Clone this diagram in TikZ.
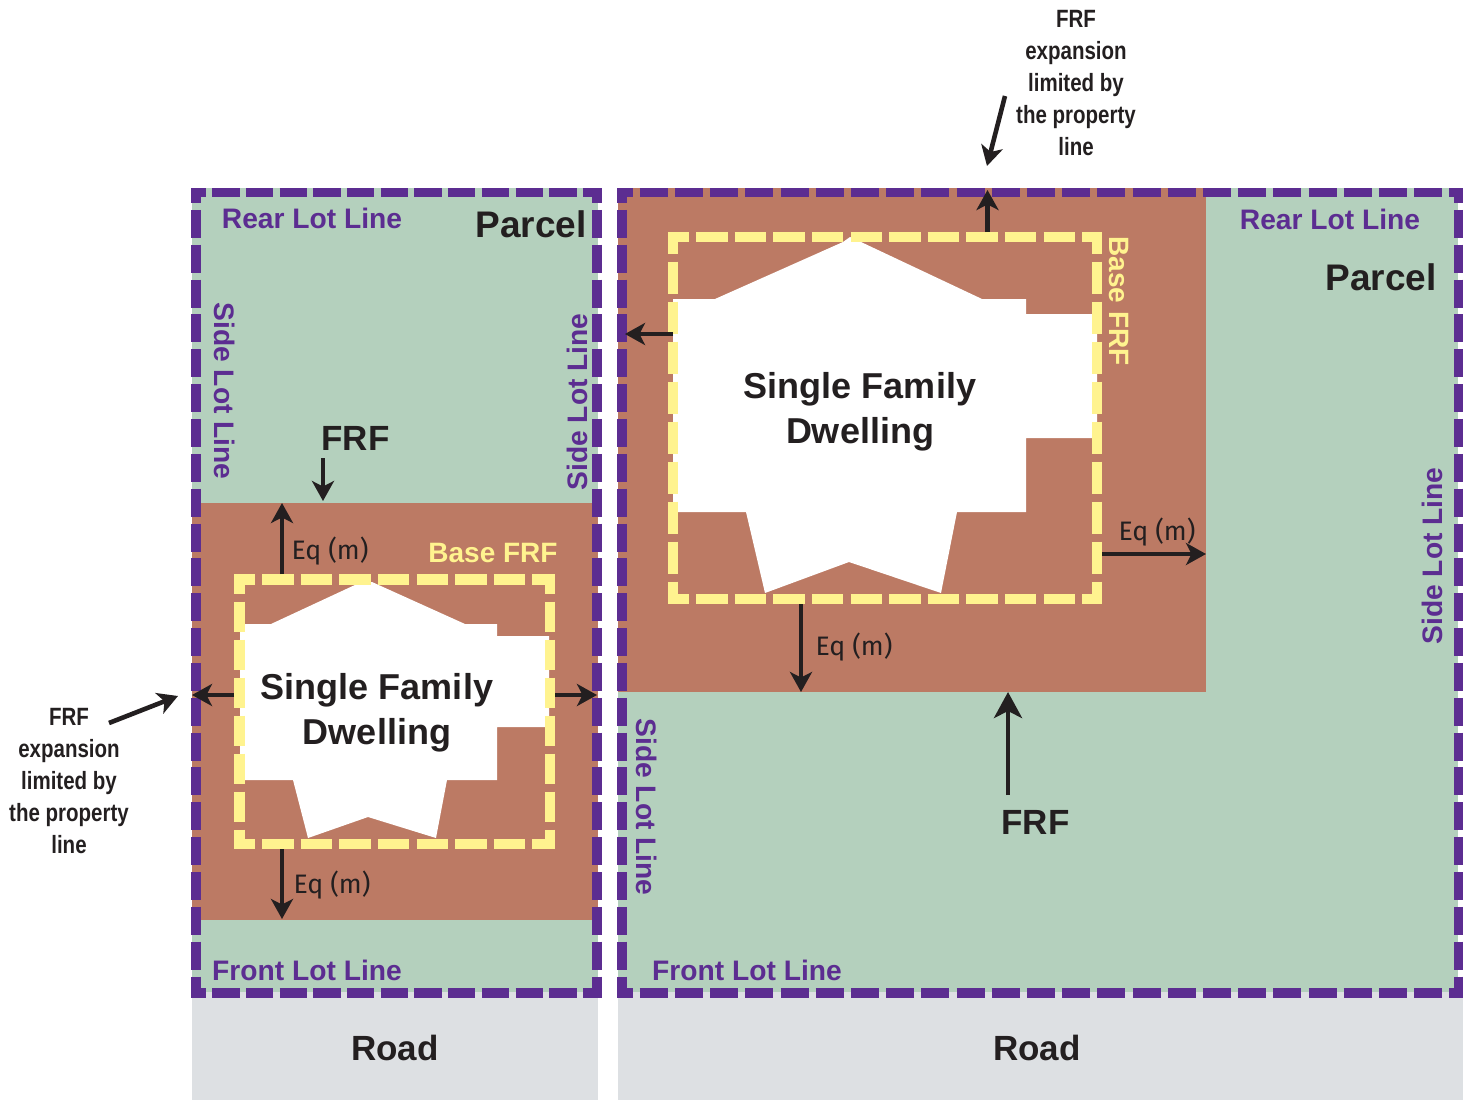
\documentclass[tikz,border=0pt]{standalone}
\usepackage{fontspec}
\setmainfont{Liberation Sans}
\newfontfamily\lightfont{Fira Sans}
\usetikzlibrary{arrows.meta}
\definecolor{lotgreen}{HTML}{B4D0BD}
\definecolor{frfbrown}{HTML}{BC7A64}
\definecolor{roadgrey}{HTML}{DDE0E3}
\definecolor{lotpurple}{HTML}{5C2D91}
\definecolor{baseyellow}{HTML}{FFF38F}
\definecolor{inkblack}{HTML}{231F20}
\tikzset{
  lotline/.style 2 args={lotpurple, line width=9.6pt, dash pattern=on #1pt off #2pt, dash phase=13pt},
  baseline h/.style={baseyellow, line width=10.6pt, dash pattern=on 31.4pt off 7.2pt, dash phase=10.5pt},
  baseline v/.style={baseyellow, line width=10.6pt, dash pattern=on #1pt off 7.6pt, dash phase=10.5pt},
  eqarrow/.style={-{Stealth[length=20pt,width=22pt,inset=5.5pt]}, inkblack, line width=4.6pt},
  frfarrow/.style={-{Stealth[length=26pt,width=28pt,inset=7pt]}, inkblack, line width=4.6pt},
  lotlabel/.style={lotpurple, font=\fontsize{28.2}{32}\selectfont\bfseries},
  biglabel/.style={inkblack, font=\fontsize{35}{45}\selectfont\bfseries, align=center},
  parcellabel/.style={inkblack, font=\fontsize{37}{45}\selectfont\bfseries},
  houselabel/.style={inkblack, font=\fontsize{36}{45}\selectfont\bfseries, align=center},
  eqlabel/.style={inkblack, font=\fontsize{26.7}{30}\lightfont},
  baselabel/.style={baseyellow, font=\fontsize{28}{32}\selectfont\bfseries},
  notelabel/.style={inkblack, xscale=0.82, font=\fontsize{25}{32}\selectfont\bfseries, align=center},
}
\begin{document}
\begin{tikzpicture}[x=1pt, y=-1pt, >=Stealth]
  \useasboundingbox (0,0) rectangle (1469,1100);
  % left parcel: ground, floodplain band, road
  \fill[lotgreen] (192,188) rectangle (598,992);
  \fill[frfbrown] (192,503) rectangle (598,920);
  \fill[roadgrey] (192,992) rectangle (598,1100);
  % right parcel: ground, floodplain block, road
  \fill[lotgreen] (618,188) rectangle (1458,992);
  \fill[frfbrown] (618,188) rectangle (1206,692);
  \fill[roadgrey] (618,992) rectangle (1463,1100);
  % left dwelling
  \fill[white] (240,624) -- (271,624) -- (357,584) -- (372,582) -- (465,624) -- (497,624)
    -- (497,636) -- (549,636) -- (549,727) -- (497,727) -- (497,780) -- (447,780)
    -- (436,838) -- (368,817) -- (308,838) -- (293,780) -- (240,780) -- cycle;
  % right dwelling
  \fill[white] (673,299) -- (715,299) -- (843,242) -- (850,237) -- (861,242) -- (982,299)
    -- (1026,299) -- (1026,314) -- (1097,314) -- (1097,438) -- (1026,438) -- (1026,512)
    -- (957,512) -- (941,593) -- (849,562) -- (765,593) -- (746,512) -- (673,512) -- cycle;
  % left base FRF outline
  \draw[baseline h] (234,579.5) -- (555,579.5);
  \draw[baseline h] (234,844) -- (555,844);
  \draw[baseline v=30.4] (239.5,574) -- (239.5,849);
  \draw[baseline v=30.4] (550,574) -- (550,849);
  % right base FRF outline
  \draw[baseline h] (668,237) -- (1102,237);
  \draw[baseline h] (668,599) -- (1102,599);
  \draw[baseline v=32.4] (673,232) -- (673,604);
  \draw[baseline v=32.4] (1097,232) -- (1097,604);
  % left lot lines
  \draw[lotline={27.3}{6.4}] (191.5,192.5) -- (602,192.5);
  \draw[lotline={27.3}{6.4}] (191.5,993) -- (602,993);
  \draw[lotline={28}{6.85}] (196,188) -- (196,997.8);
  \draw[lotline={28}{6.85}] (597,188) -- (597,997.8);
  % right lot lines
  \draw[lotline={28}{7.2}] (617.5,192.5) -- (1463,192.5);
  \draw[lotline={28}{7.2}] (617.5,993) -- (1463,993);
  \draw[lotline={28}{6.85}] (622,188) -- (622,997.8);
  \draw[lotline={28}{6.85}] (1458.5,188) -- (1458.5,997.8);
  % left arrows
  \draw[eqarrow] (282,574) -- (282,503);
  \draw[eqarrow] (282,849) -- (282,919);
  \draw[eqarrow] (234,695) -- (192,695);
  \draw[eqarrow] (555,695) -- (597,695);
  \draw[eqarrow] (323,458) -- (323,501);
  \draw[eqarrow] (109,723) -- (178,696);
  % right arrows
  \draw[eqarrow] (987.5,232) -- (987.5,190);
  \draw[eqarrow] (673,334) -- (625,334);
  \draw[eqarrow] (801,604) -- (801,692);
  \draw[eqarrow] (1102,554) -- (1206,554);
  \draw[frfarrow] (1008,795) -- (1008,692);
  \draw[eqarrow] (1005,96) -- (987,166);
  % left labels
  \node[lotlabel] (rearleft) at (312,218) {Rear Lot Line};
  \node[parcellabel] (parcelleft) at (531,224) {Parcel};
  \node[lotlabel, rotate=-90] (sideleftA) at (224.5,391) {Side Lot Line};
  \node[lotlabel, rotate=90] (sideleftB) at (577.5,402) {Side Lot Line};
  \node[biglabel] (frfleft) at (355.5,438) {FRF};
  \node[eqlabel] (eqleftA) at (330,551.5) {Eq (m)};
  \node[baselabel] (baseleft) at (493,553) {Base FRF};
  \node[houselabel] (houseleft) at (377,712.5) {Single Family\\Dwelling};
  \node[eqlabel] (eqleftB) at (332,885.5) {Eq (m)};
  \node[notelabel] (noteleft) at (69,781) {FRF\\expansion\\limited by\\the property\\line};
  \node[lotlabel] (frontleft) at (307,970) {Front Lot Line};
  \node[biglabel] (roadleft) at (395,1048) {Road};
  % right labels
  \node[lotlabel] (rearright) at (1330,219) {Rear Lot Line};
  \node[parcellabel] (parcelright) at (1381,277) {Parcel};
  \node[lotlabel, rotate=-90] (siderightA) at (646.5,807) {Side Lot Line};
  \node[lotlabel, rotate=90] (siderightB) at (1432.5,556) {Side Lot Line};
  \node[biglabel] (frfright) at (1035.5,822) {FRF};
  \node[eqlabel] (eqrightA) at (1157,532.5) {Eq (m)};
  \node[eqlabel] (eqrightB) at (854,647.5) {Eq (m)};
  \node[baselabel, rotate=-90] (baseright) at (1118.5,301) {Base FRF};
  \node[houselabel] (houseright) at (860,411.5) {Single Family\\Dwelling};
  \node[notelabel] (noteright) at (1076,83) {FRF\\expansion\\limited by\\the property\\line};
  \node[lotlabel] (frontright) at (747,970) {Front Lot Line};
  \node[biglabel] (roadright) at (1037,1048) {Road};
\end{tikzpicture}
\end{document}
